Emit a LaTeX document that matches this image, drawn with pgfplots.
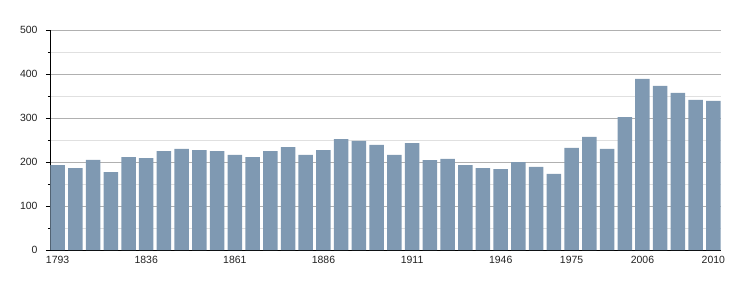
\documentclass[border=0pt]{standalone}
\usepackage{fontspec}
\setmainfont{Liberation Sans}
\usepackage{pgfplots}
\pgfplotsset{compat=1.18}
\definecolor{barcol}{RGB}{127,153,178}
\definecolor{majgrid}{RGB}{176,176,176}
\definecolor{mingrid}{RGB}{224,224,224}
\definecolor{txt}{RGB}{34,34,34}
\begin{document}
\begin{tikzpicture}[x=1bp,y=1bp]
\useasboundingbox (-50bp,-50bp) rectangle (700bp,250bp);
\begin{axis}[
  at={(0,0)}, anchor=south west,
  scale only axis,
  width=671bp, height=220bp,
  xmin=-0.43, xmax=37.43,
  ymin=0, ymax=500,
  axis x line*=bottom, axis y line*=left,
  axis line style={black, line width=0.8pt, -},
  ytick={0,100,200,300,400,500},
  minor ytick={50,150,250,350,450},
  ymajorgrids, yminorgrids,
  major grid style={majgrid, line width=0.8pt},
  minor grid style={mingrid, line width=0.8pt},
  ytick style={black, line width=0.8pt},
  major tick length=4bp, minor tick length=2bp,
  ytick align=outside,
  xtick={0,5,10,15,20,25,29,33,37},
  xticklabels={1793,1836,1861,1886,1911,1946,1975,2006,2010},
  xtick style={draw=none},
  tick label style={font=\fontsize{10.5}{12}\selectfont, text=txt},
  yticklabel style={xshift=-5bp},
  xticklabel style={yshift=1.5bp},
  /pgf/number format/assume math mode=true,
  ybar, bar width=14.5bp,
]
\addplot[fill=barcol, draw=none] coordinates {
(0,193) (1,186) (2,205) (3,177) (4,211) (5,209) (6,225) (7,230) (8,227) (9,225)
(10,216) (11,211) (12,225) (13,234) (14,216) (15,227) (16,252) (17,248) (18,239) (19,216)
(20,243) (21,204) (22,207) (23,193) (24,186) (25,184) (26,200) (27,189) (28,173) (29,232)
(30,257) (31,230) (32,302) (33,389) (34,373) (35,357) (36,341) (37,339)
};
\end{axis}
\end{tikzpicture}
\end{document}
